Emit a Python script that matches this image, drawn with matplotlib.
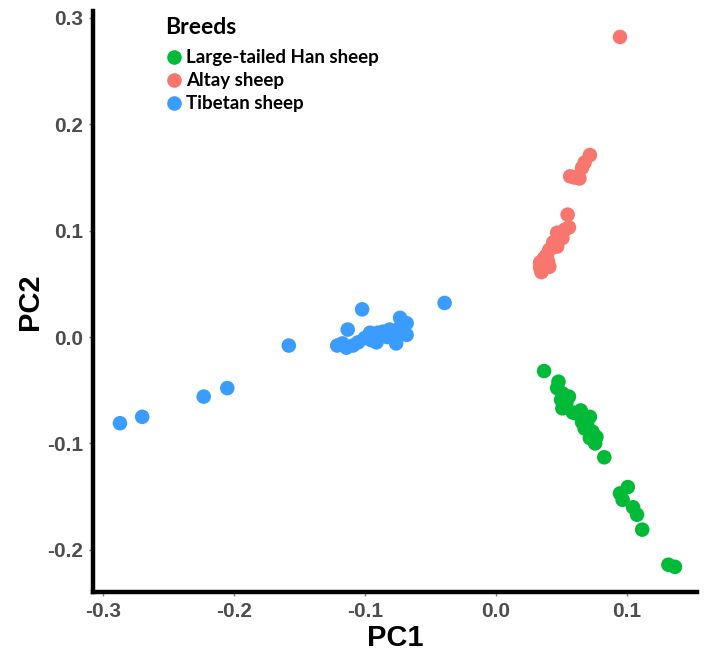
import matplotlib
matplotlib.use("Agg")
import matplotlib.pyplot as plt
from matplotlib.lines import Line2D

breeds = ["Large-tailed Han sheep", "Altay sheep", "Tibetan sheep"]
colors = ["#00BA38", "#F8766D", "#3A9CFF"]

han_pc1 = [0.037, 0.048, 0.047, 0.051, 0.056, 0.050, 0.051, 0.059, 0.065, 0.072,
           0.066, 0.068, 0.074, 0.077, 0.072, 0.076, 0.083, 0.101, 0.095, 0.097,
           0.105, 0.108, 0.112, 0.132, 0.137, 0.070, 0.054, 0.062]
han_pc2 = [-0.032, -0.042, -0.048, -0.053, -0.056, -0.059, -0.067, -0.071, -0.069, -0.075,
           -0.080, -0.086, -0.089, -0.094, -0.095, -0.100, -0.113, -0.141, -0.147, -0.153,
           -0.160, -0.167, -0.181, -0.214, -0.216, -0.083, -0.062, -0.072]

altay_pc1 = [0.095, 0.072, 0.068, 0.066, 0.057, 0.060, 0.064, 0.055, 0.056, 0.047,
             0.051, 0.044, 0.047, 0.041, 0.039, 0.036, 0.034, 0.037, 0.041, 0.035,
             0.034, 0.040, 0.037, 0.043, 0.049, 0.053]
altay_pc2 = [0.282, 0.171, 0.164, 0.159, 0.151, 0.150, 0.149, 0.115, 0.103, 0.098,
             0.093, 0.089, 0.085, 0.082, 0.077, 0.072, 0.070, 0.065, 0.066, 0.061,
             0.065, 0.071, 0.074, 0.084, 0.095, 0.101]

tibet_pc1 = [-0.287, -0.270, -0.223, -0.205, -0.158, -0.039, -0.102, -0.113, -0.121, -0.114,
             -0.073, -0.068, -0.076, -0.091, -0.096, -0.086, -0.105, -0.109, -0.081, -0.073,
             -0.071, -0.068, -0.100, -0.095, -0.083, -0.090, -0.077, -0.117]
tibet_pc2 = [-0.081, -0.075, -0.056, -0.048, -0.008, 0.032, 0.026, 0.007, -0.008, -0.010,
             0.018, 0.002, -0.006, -0.005, 0.004, 0.005, -0.005, -0.008, 0.007, 0.009,
             0.007, 0.013, -0.001, -0.003, 0.000, 0.004, 0.002, -0.006]

xticks = [-0.3, -0.2, -0.1, 0.0, 0.1]
yticks = [-0.2, -0.1, 0.0, 0.1, 0.2, 0.3]

fig = plt.figure(figsize=(7.12, 6.66), dpi=100)
ax = fig.add_axes([0.1306, 0.111, 0.849, 0.8725])

series = [(han_pc1, han_pc2), (altay_pc1, altay_pc2), (tibet_pc1, tibet_pc2)]
for (xs, ys), c in zip(series, colors):
    ax.scatter(xs, ys, s=110, color=c, edgecolors="none", zorder=3)

ax.set_xlim(-0.3076, 0.1542)
ax.set_ylim(-0.2397, 0.3064)
ax.set_xticks(xticks)
ax.set_yticks(yticks)
ax.set_xticklabels([f"{t:.1f}" for t in xticks])
ax.set_yticklabels([f"{t:.1f}" for t in yticks])

for s in ["top", "right"]:
    ax.spines[s].set_visible(False)
for s in ["left", "bottom"]:
    ax.spines[s].set_linewidth(3.2)
    ax.spines[s].set_color("black")

ax.tick_params(axis="both", length=3, width=1, color="#7f7f7f", pad=4)
for lab in ax.get_xticklabels() + ax.get_yticklabels():
    lab.set_fontfamily("Liberation Sans")
    lab.set_fontweight("bold")
    lab.set_fontsize(15)
    lab.set_color("#4D4D4D")

ax.set_xlabel("PC1", fontsize=21, fontweight="bold", family="Liberation Sans", labelpad=2)
ax.set_ylabel("PC2", fontsize=21, fontweight="bold", family="Liberation Sans", labelpad=2)

handles = [Line2D([0], [0], marker="o", linestyle="none", markersize=10.5,
                  markerfacecolor=c, markeredgecolor="none") for c in colors]
leg = ax.legend(handles, breeds, title="Breeds", loc="upper left",
                bbox_to_anchor=(0.213, 0.994), bbox_transform=fig.transFigure,
                frameon=False, alignment="left", handletextpad=0.15,
                handlelength=1.0, labelspacing=0.32, borderpad=0.2,
                prop={"family": "Lato", "weight": "bold", "size": 13.5},
                title_fontproperties={"family": "Lato", "weight": "bold", "size": 16.5})
leg._legend_box.sep = 8

fig.savefig("out.png", dpi=100)
